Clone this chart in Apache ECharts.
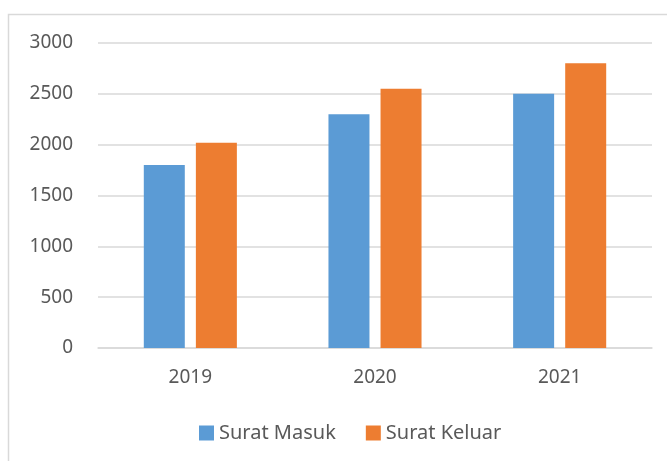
<!DOCTYPE html>
<html>
<head>
<meta charset="utf-8">
<script src="https://cdn.jsdelivr.net/npm/echarts@6/dist/echarts.min.js"></script>
<style>
  html, body { margin: 0; padding: 0; background: #fff; }
  #chart { width: 667px; height: 461px; }
</style>
</head>
<body>
<div id="chart"></div>
<script>
// data
var years = ['2019', '2020', '2021'];
var suratMasuk = [1800, 2300, 2500];
var suratKeluar = [2020, 2550, 2800];

var myChart = echarts.init(document.getElementById('chart'));
var labelFont = 'Noto Sans';

var option = {
  animation: false,
  graphic: [
    {
      type: 'rect',
      shape: { x: 8.5, y: 14.5, width: 700, height: 500 },
      style: { fill: 'none', stroke: '#d9d9d9', lineWidth: 1.5 },
      silent: true
    }
  ],
  grid: {
    left: 98,
    right: 15,
    top: 43,
    bottom: 113
  },
  legend: {
    bottom: 13,
    left: 194,
    itemWidth: 15,
    itemHeight: 15,
    itemGap: 30,
    icon: 'rect',
    textStyle: { fontFamily: labelFont, fontSize: 20, color: '#595959' },
    data: ['Surat Masuk', 'Surat Keluar']
  },
  xAxis: {
    type: 'category',
    data: years,
    axisLine: { lineStyle: { color: '#d9d9d9', width: 1.5 } },
    axisTick: { show: false },
    axisLabel: { fontFamily: labelFont, fontSize: 19, color: '#595959', margin: 20 }
  },
  yAxis: {
    type: 'value',
    min: 0,
    max: 3000,
    interval: 500,
    axisLine: { show: false },
    axisTick: { show: false },
    splitLine: { lineStyle: { color: '#d9d9d9', width: 1.5 } },
    axisLabel: {
      fontFamily: labelFont, fontSize: 19, color: '#595959', margin: 25,
      formatter: function (v) { return String(v); }
    }
  },
  series: [
    {
      name: 'Surat Masuk',
      type: 'bar',
      data: suratMasuk,
      barWidth: 41,
      barGap: '27%',
      itemStyle: { color: '#5b9bd5' }
    },
    {
      name: 'Surat Keluar',
      type: 'bar',
      data: suratKeluar,
      barWidth: 41,
      barGap: '27%',
      itemStyle: { color: '#ed7d31' }
    }
  ]
};

myChart.setOption(option);
</script>
</body>
</html>
